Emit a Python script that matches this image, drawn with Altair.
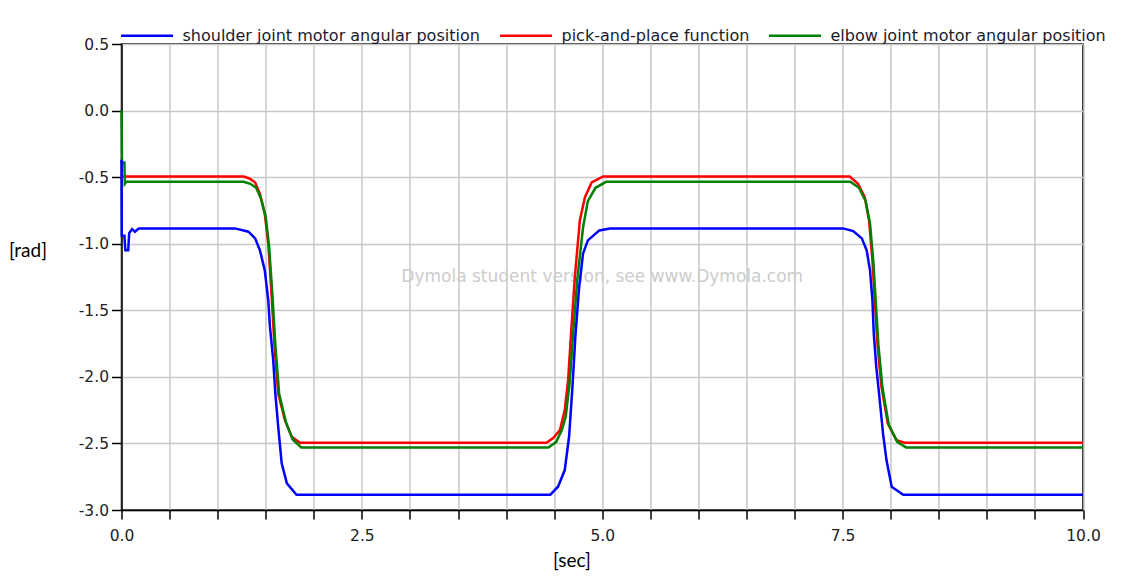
import altair as alt
import pandas as pd

SHOULDER = "shoulder joint motor angular position"
PICK = "pick-and-place function"
ELBOW = "elbow joint motor angular position"
WATERMARK = "Dymola student version, see www.Dymola.com"

series_names = [SHOULDER, PICK, ELBOW]
series_colors = ["#0000ff", "#ff0000", "#008000"]

x_ticks = [i * 0.5 for i in range(21)]
y_ticks = [-3.0, -2.5, -2.0, -1.5, -1.0, -0.5, 0.0, 0.5]

pick_t = [0, 1.27, 1.33, 1.39, 1.44, 1.49, 1.527, 1.56, 1.59, 1.63, 1.70, 1.77, 1.856,
          4.42, 4.49, 4.56, 4.61, 4.645, 4.68, 4.715, 4.767, 4.82, 4.89, 5.01,
          7.574, 7.66, 7.73, 7.775, 7.81, 7.834, 7.862, 7.904, 7.97, 8.06, 8.146, 10]
pick_v = [-0.495, -0.495, -0.51, -0.54, -0.625, -0.775, -1.0, -1.375, -1.75, -2.125, -2.325, -2.45, -2.495,
          -2.495, -2.46, -2.40, -2.25, -2.025, -1.625, -1.25, -0.825, -0.65, -0.54, -0.495,
          -0.495, -0.55, -0.65, -0.825, -1.125, -1.425, -1.75, -2.075, -2.35, -2.475, -2.495, -2.495]

elbow_t = [0, 0.005, 0.03, 0.035, 0.05, 1.27, 1.34, 1.40, 1.45, 1.50, 1.535, 1.57, 1.60, 1.64, 1.71, 1.78, 1.87,
           4.44, 4.52, 4.58, 4.62, 4.66, 4.70, 4.74, 4.80, 4.85, 4.93, 5.04,
           7.58, 7.67, 7.74, 7.785, 7.82, 7.845, 7.872, 7.914, 7.98, 8.07, 8.16, 10]
elbow_v = [0.0, -0.39, -0.39, -0.55, -0.535, -0.535, -0.55, -0.58, -0.66, -0.80, -1.02, -1.39, -1.76, -2.13, -2.34, -2.47, -2.53,
           -2.53, -2.49, -2.40, -2.30, -2.05, -1.65, -1.27, -0.88, -0.68, -0.58, -0.535,
           -0.535, -0.58, -0.68, -0.85, -1.14, -1.44, -1.76, -2.08, -2.36, -2.49, -2.53, -2.53]

shoulder_t = [0, 0.003, 0.03, 0.04, 0.07, 0.08, 0.11, 0.14, 0.18, 1.18, 1.32, 1.39, 1.44, 1.49, 1.527, 1.544,
              1.578, 1.60, 1.63, 1.666, 1.72, 1.82,
              4.46, 4.54, 4.61, 4.655, 4.69, 4.72, 4.76, 4.80, 4.85, 4.97, 5.08,
              7.505, 7.61, 7.70, 7.75, 7.785, 7.81, 7.824, 7.85, 7.886, 7.92, 7.956, 8.01, 8.13, 10]
shoulder_v = [-0.37, -0.94, -0.94, -1.05, -1.05, -0.92, -0.89, -0.91, -0.885, -0.885, -0.91, -0.96, -1.05, -1.2, -1.43, -1.625,
              -1.875, -2.125, -2.375, -2.65, -2.8, -2.885,
              -2.885, -2.825, -2.70, -2.45, -2.075, -1.7, -1.325, -1.075, -0.975, -0.9, -0.885,
              -0.885, -0.905, -0.96, -1.05, -1.2, -1.425, -1.675, -1.925, -2.175, -2.425, -2.625, -2.825, -2.885, -2.885]


def frame(name, t, v):
    return pd.DataFrame({"t": t, "v": v, "series": name, "i": list(range(len(t)))})


x_enc = alt.X(
    "t:Q",
    scale=alt.Scale(domain=[0, 10], nice=False, zero=False),
    axis=alt.Axis(
        values=x_ticks,
        labelExpr="datum.value % 2.5 == 0 ? format(datum.value, '.1f') : ''",
        title="[sec]",
        titleX=450,
        titleY=50,
        titleBaseline="middle",
        titleAlign="center",
        tickSize=9,
        labelPadding=9,
        labelFlush=False,
    ),
)
y_enc = alt.Y(
    "v:Q",
    scale=alt.Scale(domain=[-3, 0.5], nice=False, zero=False),
    axis=alt.Axis(
        values=y_ticks,
        labelExpr="replace(format(datum.value, '.1f'), '\u2212', '-')",
        title="[rad]",
        titleAngle=0,
        titleAlign="left",
        titleBaseline="middle",
        titleX=-113,
        titleY=206,
        tickSize=10,
        labelPadding=3,
        labelFlush=False,
    ),
)
color_enc = alt.Color(
    "series:N",
    scale=alt.Scale(domain=series_names, range=series_colors),
    legend=alt.Legend(
        title=None,
        orient="none",
        direction="horizontal",
        legendX=-2,
        legendY=-36,
        symbolType="stroke",
        symbolSize=2704,
        symbolStrokeWidth=2.5,
        labelOffset=8,
        columnPadding=14,
        labelFont="DejaVu Sans",
        labelFontSize=16,
        labelLimit=0,
        labelColor="#1a1a2e",
        padding=0,
    ),
)


def line(df):
    return alt.Chart(df).mark_line(strokeWidth=2.5).encode(
        x=x_enc, y=y_enc, color=color_enc, order="i:Q"
    )


watermark = alt.Chart(pd.DataFrame({"label": [WATERMARK]})).mark_text(
    font="DejaVu Sans", fontSize=17, color="#cccccc"
).encode(x=alt.datum(5.0), y=alt.datum(-1.25), text="label:N")

chart = alt.layer(
    watermark,
    line(frame(PICK, pick_t, pick_v)),
    line(frame(ELBOW, elbow_t, elbow_v)),
    line(frame(SHOULDER, shoulder_t, shoulder_v)),
).properties(
    width=961.5,
    height=466,
    autosize=alt.AutoSizeParams(type="none"),
    padding={"left": 113.5, "top": 36, "right": 32, "bottom": 62},
    background="white",
).configure_view(
    stroke="#000000", strokeWidth=1.5
).configure_axis(
    grid=True,
    gridColor="#c8c8c8",
    gridWidth=1.5,
    domainColor="#000000",
    domainWidth=1.5,
    tickColor="#000000",
    tickWidth=1.5,
    labelFont="DejaVu Sans",
    labelFontSize=15.5,
    labelColor="#222222",
    titleFont="Lato",
    titleFontSize=19,
    titleFontWeight="normal",
    titleColor="#000000",
)

chart.save("out.html", embed_options={"renderer": "svg", "actions": False})
